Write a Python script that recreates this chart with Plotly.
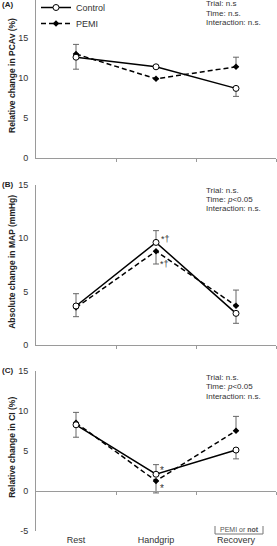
import plotly.graph_objects as go

W, H = 277, 546

categories = ["Rest", "Handgrip", "Recovery"]
xpos = [0, 1, 2]

# Panel A: Relative change in PCAv (%)
a_control = [12.6, 11.4, 8.7]
a_control_up = [0, 0, 0]
a_control_dn = [1.5, 0, 1.0]
a_pemi = [13.0, 9.9, 11.4]
a_pemi_up = [1.2, 0, 1.2]
a_pemi_dn = [0, 0, 0]

# Panel B: Absolute change in MAP (mmHg)
b_control = [3.65, 9.6, 2.96]
b_control_up = [1.15, 1.1, 0]
b_control_dn = [0, 0, 0.93]
b_pemi = [3.5, 8.78, 3.67]
b_pemi_up = [0, 0, 1.47]
b_pemi_dn = [0.85, 1.2, 0]

# Panel C: Relative change in CI (%)
c_control = [8.25, 2.08, 5.1]
c_control_up = [0, 1.2, 0]
c_control_dn = [1.55, 0, 1.1]
c_pemi = [8.5, 1.25, 7.5]
c_pemi_up = [1.3, 0, 1.8]
c_pemi_dn = [0, 1.5, 0]

y_titles = ["Relative change in PCAv (%)", "Absolute change in MAP (mmHg)", "Relative change in CI (%)"]
panel_labels = ["(A)", "(B)", "(C)"]
stats = [
    ["Trial: n.s", "Time: n.s.", "Interaction: n.s."],
    ["Trial: n.s.", "Time: <i>p</i><0.05", "Interaction: n.s."],
    ["Trial: n.s.", "Time: <i>p</i><0.05", "Interaction: n.s."],
]
y_ranges = [[0, 19.75], [0, 15], [-5, 15]]
y_ticks = [[0, 5, 10, 15], [0, 5, 10, 15], [-5, 0, 5, 10, 15]]
y_ticktext = [["0", "5", "10", "15"], ["0", "5", "10", "15"], ["-5", "0", "5", "10", "15"]]
# pixel extents (top, bottom) of each y axis
y_px = [(0, 158), (184.7, 345), (370.7, 531)]

FONT = "Arial, Liberation Sans, sans-serif"
AXC = "#9a9a9a"
TXT = "#333333"
ERRC = "#666666"

def px_x(p):
    return p / W

def px_y(p):
    return 1 - p / H

fig = go.Figure()

panels = [
    (a_control, a_control_up, a_control_dn, a_pemi, a_pemi_up, a_pemi_dn),
    (b_control, b_control_up, b_control_dn, b_pemi, b_pemi_up, b_pemi_dn),
    (c_control, c_control_up, c_control_dn, c_pemi, c_pemi_up, c_pemi_dn),
]

for i, (ctl, cu, cd, pem, pu, pd) in enumerate(panels):
    xa = "x" if i == 0 else f"x{i+1}"
    ya = "y" if i == 0 else f"y{i+1}"
    fig.add_trace(go.Scatter(
        x=xpos, y=pem, xaxis=xa, yaxis=ya, name="PEMI", mode="lines+markers",
        line=dict(color="black", width=1.5, dash="5px,3px"),
        marker=dict(symbol="diamond", size=5, color="black"),
        error_y=dict(type="data", symmetric=False, array=pu, arrayminus=pd,
                     color=ERRC, thickness=1, width=3),
        showlegend=(i == 0), legend="legend2",
    ))
    fig.add_trace(go.Scatter(
        x=xpos, y=ctl, xaxis=xa, yaxis=ya, name="Control", mode="lines+markers",
        line=dict(color="black", width=1.5),
        marker=dict(symbol="circle", size=6, color="white", line=dict(color="black", width=1)),
        error_y=dict(type="data", symmetric=False, array=cu, arrayminus=cd,
                     color=ERRC, thickness=1, width=3),
        showlegend=(i == 0), legend="legend",
    ))

# invisible trace to carry the category label axis
fig.add_trace(go.Scatter(x=xpos, y=[None, None, None], xaxis="x4", yaxis="y3",
                         mode="markers", showlegend=False, hoverinfo="skip"))

leg_common = dict(xanchor="left", yanchor="top", font=dict(size=9, color=TXT),
                  bgcolor="rgba(0,0,0,0)", itemwidth=30)
layout = dict(
    width=W, height=H, margin=dict(l=0, r=0, t=0, b=0, autoexpand=False),
    paper_bgcolor="white", plot_bgcolor="rgba(0,0,0,0)",
    font=dict(family=FONT, size=9, color=TXT),
    legend=dict(x=px_x(36), y=px_y(-7), **leg_common),
    legend2=dict(x=px_x(36), y=px_y(9), **leg_common),
)

xdom = [px_x(36), px_x(276)]
for i in range(3):
    xk = "xaxis" if i == 0 else f"xaxis{i+1}"
    yk = "yaxis" if i == 0 else f"yaxis{i+1}"
    yn = "y" if i == 0 else f"y{i+1}"
    xn = "x" if i == 0 else f"x{i+1}"
    top, bot = y_px[i]
    xa = dict(domain=xdom, range=[-0.5, 2.5], tickvals=[0.5, 1.5, 2.5],
              ticks="outside", ticklen=3, tickcolor=AXC, showticklabels=False,
              showline=True, linecolor=AXC, linewidth=1, showgrid=False,
              zeroline=False, fixedrange=True, automargin=False)
    if i == 2:
        xa.update(anchor="free", position=px_y(491))
    else:
        xa.update(anchor=yn)
    layout[xk] = xa
    layout[yk] = dict(domain=[px_y(bot), px_y(top)], range=y_ranges[i],
                      tickvals=y_ticks[i], ticktext=y_ticktext[i], ticks="", showline=True,
                      linecolor=AXC, linewidth=1, showgrid=False, zeroline=False,
                      anchor=xn, ticklabelstandoff=5, automargin=False,
                      tickfont=dict(size=9, color=TXT), fixedrange=True)

layout["xaxis4"] = dict(overlaying="x3", anchor="free", position=px_y(532.5),
                        range=[-0.5, 2.5], tickvals=xpos, ticktext=categories,
                        ticks="", showline=False, showgrid=False, zeroline=False,
                        automargin=False,
                        tickfont=dict(size=9, color=TXT), fixedrange=True)

fig.update_layout(**layout)

# y-axis titles
for i in range(3):
    top, bot = y_px[i]
    fig.add_annotation(text=f"<b>{y_titles[i]}</b>", textangle=-90,
                       xref="paper", yref="paper", x=px_x(12),
                       y=px_y((top + bot) / 2 - 3), showarrow=False,
                       font=dict(size=8.5, color="#222"), xanchor="center", yanchor="middle")

# panel labels
label_y = [5, 184, 370]
for i in range(3):
    fig.add_annotation(text=f"<b>{panel_labels[i]}</b>", xref="paper", yref="paper",
                       x=px_x(0), y=px_y(label_y[i]), showarrow=False,
                       xanchor="left", yanchor="middle", font=dict(size=8, color="#222"))

# stats text
stat_top = [4, 190, 377]
for i in range(3):
    for j, s in enumerate(stats[i]):
        fig.add_annotation(text=s, xref="paper", yref="paper",
                           x=px_x(204), y=px_y(stat_top[i] + j * 9.5), showarrow=False,
                           xanchor="left", yanchor="middle", font=dict(size=8, color=TXT))

# significance marks
fig.add_annotation(text="*†", xref="x2", yref="y2", x=1.04, y=9.9, showarrow=False,
                   xanchor="left", yanchor="middle", font=dict(size=9, color="#333"))
fig.add_annotation(text="*†", xref="x2", yref="y2", x=1.03, y=7.6, showarrow=False,
                   xanchor="left", yanchor="middle", font=dict(size=9, color="#333"))
fig.add_annotation(text="*", xref="x3", yref="y3", x=1.03, y=2.6, showarrow=False,
                   xanchor="left", yanchor="middle", font=dict(size=10, color="#333"))
fig.add_annotation(text="*", xref="x3", yref="y3", x=1.03, y=0.3, showarrow=False,
                   xanchor="left", yanchor="middle", font=dict(size=10, color="#333"))

# "PEMI or not" bracket
x0, x1 = px_x(215), px_x(263)
yt, yb = px_y(526), px_y(534)
fig.add_shape(type="path", xref="paper", yref="paper",
              path=f"M {x0},{yt} L {x0},{yb} L {x1},{yb} L {x1},{yt}",
              line=dict(color="#777", width=1))
fig.add_annotation(text="PEMI or <b>not</b>", xref="paper", yref="paper",
                   x=px_x(239), y=px_y(529.5), showarrow=False,
                   xanchor="center", yanchor="middle", font=dict(size=7, color="#555"))

fig.write_html("out.html")
